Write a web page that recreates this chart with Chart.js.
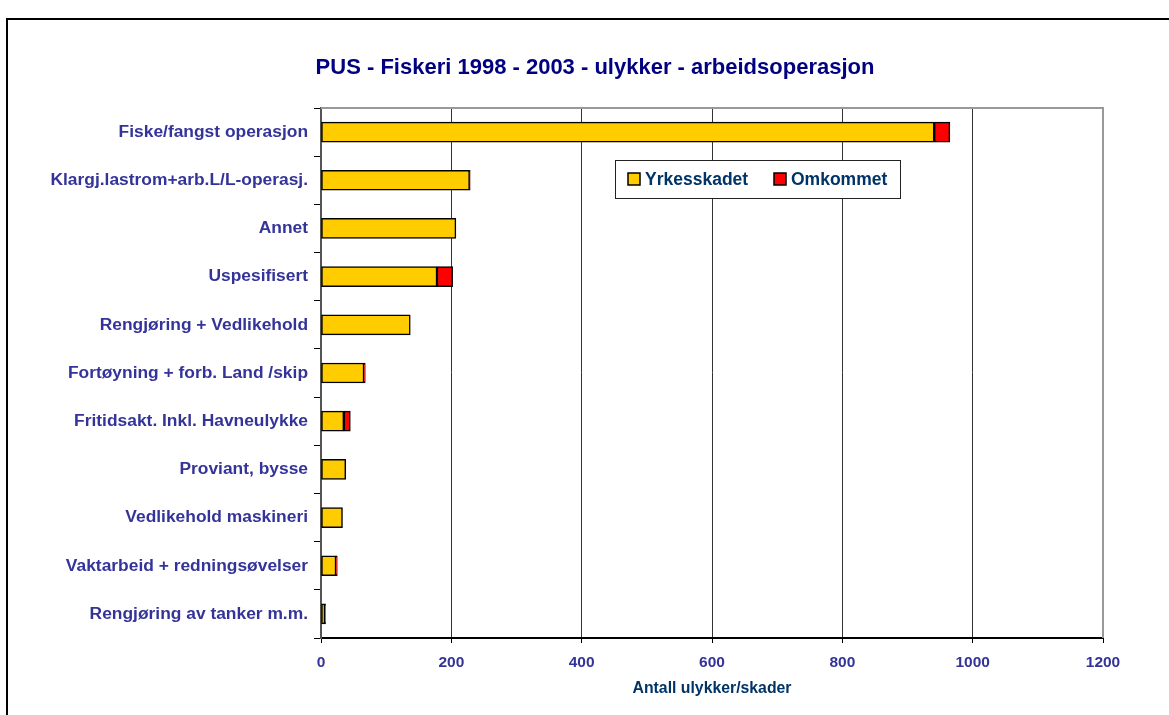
<!DOCTYPE html>
<html>
<head>
<meta charset="utf-8">
<script src="https://cdn.jsdelivr.net/npm/chart.js@4.4.1/dist/chart.umd.min.js"></script>
<style>
  body { margin: 0; background: #fff; }
  #wrap { position: relative; width: 1169px; height: 715px; }
</style>
</head>
<body>
<div id="wrap"><canvas id="pusChart" width="1169" height="715"></canvas></div>
<script>
// data
const categories = [
    'Fiske/fangst operasjon',
    'Klargj.lastrom+arb.L/L-operasj.',
    'Annet',
    'Uspesifisert',
    'Rengjøring + Vedlikehold',
    'Fortøyning + forb. Land /skip',
    'Fritidsakt. Inkl. Havneulykke',
    'Proviant, bysse',
    'Vedlikehold maskineri',
    'Vaktarbeid + redningsøvelser',
    'Rengjøring av tanker m.m.'
];
const yrkesskadet = [941, 228, 207, 178, 137, 66, 35, 38, 33, 23, 6];
const omkommet = [24, 1, 0, 24, 0, 2, 10, 0, 0, 2, 1];
const seriesNames = ['Yrkesskadet', 'Omkommet'];
const chartTitle = 'PUS - Fiskeri 1998 - 2003 - ulykker - arbeidsoperasjon';
const xMin = 0, xMax = 1200, xStep = 200;

const FONT = '"Liberation Sans", Arial, sans-serif';

// frame, title, plot border and the legend box inside the plot
const extras = {
    id: 'extras',
    beforeDraw(chart) {
        const c = chart.ctx;
        c.save();
        c.fillStyle = '#000';
        c.fillRect(6, 18, 1169, 2);
        c.fillRect(6, 18, 2, 715);
        // title (centred on the page, not on the plot)
        c.fillStyle = '#000080';
        c.font = 'bold 22px ' + FONT;
        c.textAlign = 'center';
        c.textBaseline = 'middle';
        c.fillText(chartTitle, 595, 68);
        c.restore();
    },
    beforeDatasetsDraw(chart) {
        const a = chart.chartArea, c = chart.ctx;
        c.save();
        c.strokeStyle = '#999';
        c.lineWidth = 2;
        c.beginPath();
        c.moveTo(a.left, a.top);
        c.lineTo(a.right, a.top);
        c.lineTo(a.right, a.bottom);
        c.stroke();
        c.restore();
    },
    afterDraw(chart) {
        const c = chart.ctx;
        c.save();
        c.fillStyle = '#fff';
        c.strokeStyle = '#222';
        c.lineWidth = 1;
        c.fillRect(615, 160, 285, 38);
        c.strokeRect(615.5, 160.5, 285, 38);
        c.font = 'bold 17.5px ' + FONT;
        c.textBaseline = 'middle';
        const xs = [628, 774];
        chart.data.datasets.forEach((ds, i) => {
            c.fillStyle = ds.backgroundColor;
            c.fillRect(xs[i], 173, 12, 12);
            c.strokeStyle = '#000';
            c.lineWidth = 1.5;
            c.strokeRect(xs[i], 173, 12, 12);
            c.fillStyle = '#003366';
            c.fillText(ds.label, xs[i] + 17, 180);
        });
        c.restore();
    }
};

const ctx = document.getElementById('pusChart').getContext('2d');
const myChart = new Chart(ctx, {
    type: 'bar',
    data: {
        labels: categories,
        datasets: [{
            label: seriesNames[0],
            data: yrkesskadet,
            backgroundColor: '#FFCC00',
            borderColor: '#000',
            borderWidth: 1.5,
            borderSkipped: false,
            barThickness: 20
        }, {
            label: seriesNames[1],
            data: omkommet,
            backgroundColor: '#FF0000',
            borderColor: '#000',
            borderWidth: 1.5,
            borderSkipped: false,
            barThickness: 20
        }]
    },
    options: {
        indexAxis: 'y',
        responsive: false,
        animation: false,
        layout: { padding: { left: 0, right: 66, top: 108, bottom: 0 } },
        plugins: {
            legend: { display: false },
            tooltip: { enabled: false },
            title: { display: false }
        },
        scales: {
            x: {
                stacked: true,
                min: xMin,
                max: xMax,
                ticks: {
                    stepSize: xStep,
                    color: '#333399',
                    padding: 10,
                    font: { family: FONT, size: 15.5, weight: 'bold' },
                    callback: (v) => String(v)
                },
                grid: {
                    color: (c) => (c.tick && c.tick.value === xMax) ? '#999' : '#333',
                    tickColor: '#000',
                    tickLength: 5,
                    lineWidth: 1
                },
                border: { color: '#000', width: 2 },
                title: {
                    display: true,
                    text: 'Antall ulykker/skader',
                    color: '#003366',
                    font: { family: FONT, size: 15.8, weight: 'bold', lineHeight: 1.2 },
                    padding: { top: 0, bottom: 16.7 }
                },
                afterFit(scale) { scale.height = 77; }
            },
            y: {
                stacked: true,
                ticks: {
                    color: '#333399',
                    padding: 6,
                    autoSkip: false,
                    font: { family: FONT, size: 17.4, weight: 'bold' }
                },
                grid: {
                    drawOnChartArea: false,
                    tickLength: 7,
                    tickColor: '#000',
                    color: '#000'
                },
                border: { color: '#555', width: 2 },
                afterFit(scale) { scale.width = 321; }
            }
        }
    },
    plugins: [extras]
});
</script>
</body>
</html>
